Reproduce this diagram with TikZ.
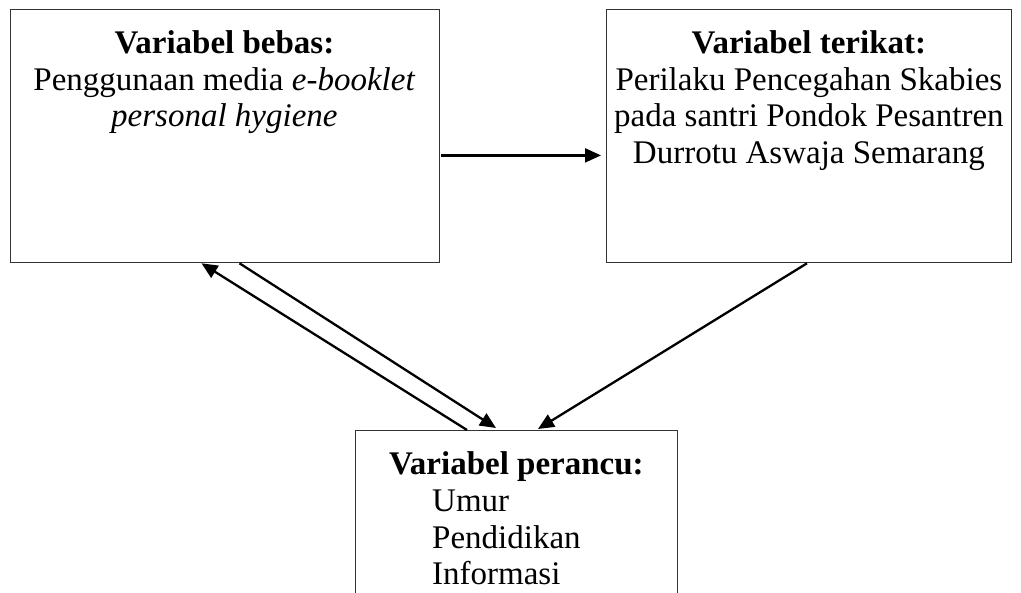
\documentclass[tikz,border=0pt]{standalone}
\usepackage{fontspec}
\setmainfont{Liberation Serif}
\usepackage{tikz}
\usetikzlibrary{arrows.meta,positioning}
\tikzstyle{varbox} = [rectangle, draw=black!80, line width=0.8pt, inner sep=0pt]
\tikzstyle{vartext} = [inner sep=0pt, align=center, font=\fontsize{33}{36.5}\selectfont]
\tikzstyle{link} = [line width=2.3pt, -{Triangle[length=16pt,width=14pt]}]

\begin{document}
\begin{tikzpicture}[x=1pt,y=-1pt]
    \useasboundingbox (0,0) rectangle (1021,593);

    \node[varbox, anchor=north west, minimum width=429pt, minimum height=253pt] (bebas) at (9.5,9.5) {};
    \node[varbox, anchor=north west, minimum width=405pt, minimum height=253pt] (terikat) at (606,9.5) {};
    \node[varbox, anchor=north west, minimum width=322pt, minimum height=190pt] (perancu) at (355,430) {};

    \node[vartext, below=21pt of bebas.north] (bebastxt)
        {\textbf{Variabel bebas:}\\Penggunaan media \textit{e-booklet}\\\textit{personal hygiene}};
    \node[vartext, below=21pt of terikat.north] (terikattxt)
        {\textbf{Variabel terikat:}\\Perilaku Pencegahan Skabies\\pada santri Pondok Pesantren\\Durrotu Aswaja Semarang};
    \node[vartext, below=21pt of perancu.north] (perancutxt) {\textbf{Variabel perancu:}};
    \node[vartext, align=left, anchor=north west] (faktor) at (432,490)
        {Umur\\Pendidikan\\Informasi};

    \draw[link, shorten <=2pt, shorten >=5pt] ([yshift=-19pt]bebas.east) -- ([yshift=-19pt]terikat.west);
    \draw[link] ([xshift=112pt]perancu.north west) -- ([xshift=192pt]bebas.south west);
    \draw[link] ([xshift=230pt]bebas.south west) -- ([xshift=141pt,yshift=2pt]perancu.north west);
    \draw[link] ([xshift=201pt]terikat.south west) -- ([xshift=183pt,yshift=1pt]perancu.north west);
\end{tikzpicture}
\end{document}
